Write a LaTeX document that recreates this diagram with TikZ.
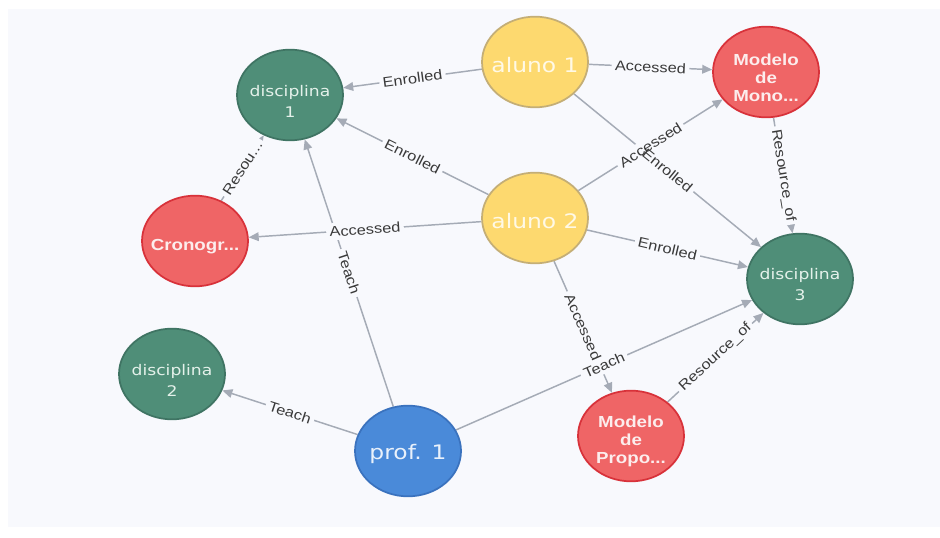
\documentclass[tikz,border=0pt]{standalone}
\usepackage{fontspec}
\setmainfont{Liberation Sans}
\newfontfamily\relfont[FakeStretch=1.17]{Liberation Sans}
\newfontfamily\capfont[FakeStretch=1.17]{DejaVu Sans}
\newfontfamily\docfont[FakeStretch=1.17]{Liberation Sans}
\usetikzlibrary{shapes.geometric,arrows.meta}

\pgfdeclarelayer{gaps}
\pgfdeclarelayer{texts}
\pgfdeclarelayer{nodes}
\pgfsetlayers{main,gaps,texts,nodes}

\definecolor{panel}{HTML}{F8F9FD}
\definecolor{edgegray}{HTML}{A5ABB6}
\definecolor{lbl}{HTML}{3A3A3A}
\definecolor{gfill}{HTML}{4F8E78}
\definecolor{gline}{HTML}{3F7463}
\definecolor{gtext}{HTML}{E4F1EA}
\definecolor{yfill}{HTML}{FDD96F}
\definecolor{yline}{HTML}{C4AE76}
\definecolor{ytext}{HTML}{FFF9E6}
\definecolor{rfill}{HTML}{EF6566}
\definecolor{rline}{HTML}{D8323A}
\definecolor{rtext}{HTML}{FCEDED}
\definecolor{bfill}{HTML}{4A8AD9}
\definecolor{bline}{HTML}{3A72BE}
\definecolor{btext}{HTML}{E9F1FB}

\tikzset{
  base/.style={ellipse, inner sep=0pt, minimum width=79.5pt, minimum height=68pt,
    line width=1.3pt},
  course/.style={base, fill=gfill, draw=gline},
  student/.style={base, fill=yfill, draw=yline},
  teacher/.style={base, fill=bfill, draw=bline},
  resource/.style={base, fill=rfill, draw=rline},
  coursetext/.style={align=center, inner sep=0pt, text=gtext, yshift=-4.5pt,
    font=\capfont\fontsize{11}{15.75}\selectfont},
  studenttext/.style={align=center, inner sep=0pt, text=ytext, yshift=-2.5pt,
    font=\capfont\fontsize{15}{18}\selectfont},
  teachertext/.style={align=center, inner sep=0pt, text=btext, yshift=-2.5pt,
    font=\capfont\fontsize{15}{18}\selectfont},
  resourcetext/.style={align=center, inner sep=0pt, text=rtext, yshift=-4pt,
    font=\docfont\bfseries\fontsize{12}{13.5}\selectfont},
  relline/.style={draw=edgegray, line width=1.1pt,
    -{Triangle[length=7.5pt,width=6.5pt]}},
  gapbox/.style={midway, sloped, fill=panel, inner sep=2.5pt,
    font=\relfont\fontsize{10.5}{12}\selectfont},
  reltext/.style={midway, sloped, inner sep=2.5pt, text=lbl,
    font=\relfont\fontsize{10.5}{12}\selectfont},
}

% entity: a coloured ellipse with its caption set a little below the centre
\newcommand\entity[4]{% kind, name, position, caption
  \node[#1] (#2) at (#3) {};
  \node[#1text] (#2-t) at (#2) {#4};
}

% relationship: line with arrow, a gap in the line, and the label on top
\newcommand\rel[4][]{%
  \draw[relline] (#2) -- (#3);
  \begin{pgfonlayer}{gaps}
    \path (#2) -- (#3) node[gapbox,#1] (#2-#3-gap) {\phantom{#4}};
  \end{pgfonlayer}
  \begin{pgfonlayer}{texts}
    \path (#2) -- (#3) node[reltext,#1] (#2-#3-lbl) {#4};
  \end{pgfonlayer}
}

\begin{document}
\begin{tikzpicture}[x=0.75pt,y=-0.75pt]
  \useasboundingbox (0,0) rectangle (940,538);
  \fill[white] (0,0) rectangle (940,538);
  \fill[panel] (8,9) rectangle (940,527);

  \begin{pgfonlayer}{nodes}
    \entity{course}{d1}{290,95}{disciplina\\1}
    \entity{student}{a1}{535,62}{aluno 1}
    \entity{resource}{mono}{766,72}{Modelo\\de\\Mono...}
    \entity{student}{a2}{535,218}{aluno 2}
    \entity{resource}{cron}{195,241}{Cronogr...}
    \entity{course}{d3}{800,279}{disciplina\\3}
    \entity{course}{d2}{172,374}{disciplina\\2}
    \entity{teacher}{prof}{408,451}{prof. 1}
    \entity{resource}{propo}{631,436}{Modelo\\de\\Propo...}
  \end{pgfonlayer}

  \rel{a1}{d1}{Enrolled}
  \rel{a1}{mono}{Accessed}
  \rel{a1}{d3}{Enrolled}
  \rel{a2}{d1}{Enrolled}
  \rel{a2}{mono}{Accessed}
  \rel{a2}{cron}{Accessed}
  \rel{a2}{d3}{Enrolled}
  \rel{a2}{propo}{Accessed}
  \rel{cron}{d1}{Resou...}
  \rel{mono}{d3}{Resource\_of}
  \rel{propo}{d3}{Resource\_of}
  \rel{prof}{d1}{Teach}
  \rel{prof}{d2}{Teach}
  \rel{prof}{d3}{Teach}
\end{tikzpicture}
\end{document}
